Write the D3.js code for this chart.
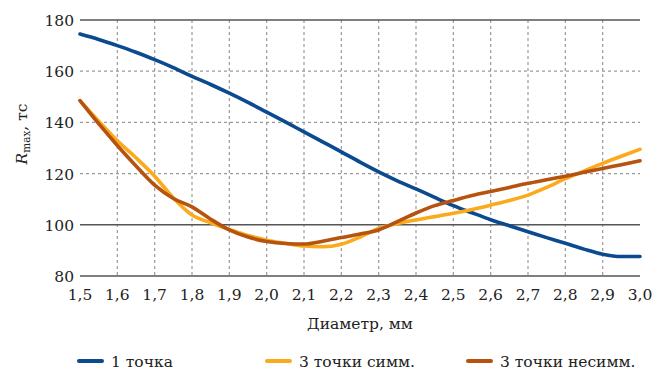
<!DOCTYPE html>
<html>
<head>
<meta charset="utf-8">
<script src="https://cdn.jsdelivr.net/npm/d3@7"></script>
<style>
  html, body { margin: 0; padding: 0; background: #fff; }
  svg { display: block; }
  text { font-family: "DejaVu Serif", "Liberation Serif", serif; fill: #222; }
</style>
</head>
<body>
<svg id="chart" width="653" height="370"></svg>
<script>
// Diameter, mm (0.05 step)
const diameters = [1.5, 1.55, 1.6, 1.65, 1.7, 1.75, 1.8, 1.85, 1.9, 1.95, 2.0, 2.05, 2.1, 2.15, 2.2, 2.25,
                   2.3, 2.35, 2.4, 2.45, 2.5, 2.55, 2.6, 2.65, 2.7, 2.75, 2.8, 2.85, 2.9, 2.95, 3.0];

// R max, tc
const onePoint = [174.5, 172.4, 170, 167.4, 164.5, 161.4, 158, 154.8, 151.4, 147.8, 144, 140.2, 136.3, 132.4, 128.5, 124.5,
                  120.7, 117.2, 114, 110.7, 107.5, 104.7, 102, 99.6, 97.3, 95, 92.8, 90.5, 88.5, 87.6, 87.6];
const threeSym = [148.5, 140.5, 132.8, 126.2, 119, 110.5, 103.8, 100.8, 98.2, 95.8, 94, 92.8, 91.7, 91.4, 92.4, 95.2,
                  98.6, 100.5, 101.9, 103.2, 104.5, 106, 107.7, 109.5, 111.6, 114.6, 118, 121, 124, 126.8, 129.5];
const threeAsym = [148.5, 139.5, 131, 123, 115.5, 110.3, 107, 102.2, 98, 95.2, 93.5, 92.7, 92.5, 93.6, 95, 96.4,
                   98, 101.2, 104.6, 107.5, 109.5, 111.4, 113, 114.6, 116.2, 117.6, 119, 120.5, 122, 123.5, 125];

const xTicks = [1.5, 1.6, 1.7, 1.8, 1.9, 2.0, 2.1, 2.2, 2.3, 2.4, 2.5, 2.6, 2.7, 2.8, 2.9, 3.0];
const yTicks = [80, 100, 120, 140, 160, 180];
const solidY = [80, 100, 180];

const seriesNames = ["1 точка", "3 точки симм.", "3 точки несимм."];
const seriesColors = ["#0b4a8e", "#fbaa1c", "#b6530f"];
const seriesValues = [onePoint, threeSym, threeAsym];

const svg = d3.select("#chart");
const x = d3.scaleLinear().domain([1.5, 3.0]).range([80, 640]);
const y = d3.scaleLinear().domain([80, 180]).range([276, 20]);
const fmt = v => d3.format(".1f")(v).replace(".", ",");

// vertical dashed grid
svg.append("g").selectAll("line")
  .data(xTicks.filter(t => t > 1.5 && t < 3.0))
  .join("line")
  .attr("x1", d => x(d)).attr("x2", d => x(d))
  .attr("y1", y(180)).attr("y2", y(80))
  .attr("stroke", "#9a9a9a").attr("stroke-width", 1.2)
  .attr("stroke-dasharray", "3,3");

// horizontal grid: dashed for inner, solid for 80/100/180
svg.append("g").selectAll("line")
  .data(yTicks)
  .join("line")
  .attr("x1", x(1.5)).attr("x2", x(3.0))
  .attr("y1", d => y(d)).attr("y2", d => y(d))
  .attr("stroke", d => solidY.includes(d) ? "#555" : "#9a9a9a")
  .attr("stroke-width", d => solidY.includes(d) ? 1.4 : 1.2)
  .attr("stroke-dasharray", d => solidY.includes(d) ? null : "3,3");

// y tick labels
svg.append("g").selectAll("text")
  .data(yTicks)
  .join("text")
  .attr("x", 74).attr("y", d => y(d) + 6)
  .attr("text-anchor", "end")
  .attr("font-size", 15.5)
  .text(d => d);

// x tick labels
svg.append("g").selectAll("text")
  .data(xTicks)
  .join("text")
  .attr("x", d => x(d)).attr("y", 300)
  .attr("text-anchor", "middle")
  .attr("font-size", 15.5)
  .text(d => fmt(d));

// axis titles
svg.append("text")
  .attr("x", x(2.25)).attr("y", 329)
  .attr("text-anchor", "middle")
  .attr("font-size", 15.5)
  .text("Диаметр, мм");

const yTitle = svg.append("text")
  .attr("transform", "translate(27,134) rotate(-90)")
  .attr("text-anchor", "middle")
  .attr("font-size", 15.5);
yTitle.append("tspan").attr("font-style", "italic").text("R");
yTitle.append("tspan").attr("font-size", 10.5).attr("dy", 3).text("max");
yTitle.append("tspan").attr("dy", -3).text(", тс");

// series lines
const line = d3.line()
  .x((d, i) => x(diameters[i]))
  .y(d => y(d))
  .curve(d3.curveMonotoneX);

svg.append("g").selectAll("path")
  .data(seriesValues)
  .join("path")
  .attr("d", d => line(d))
  .attr("fill", "none")
  .attr("stroke", (d, i) => seriesColors[i])
  .attr("stroke-width", 3.6)
  .attr("stroke-linecap", "round")
  .attr("stroke-linejoin", "round");

// legend
const legendX = [79, 267, 468];
const lg = svg.append("g").selectAll("g")
  .data(seriesNames)
  .join("g")
  .attr("transform", (d, i) => `translate(${legendX[i]},361)`);
lg.append("line")
  .attr("x1", 0).attr("x2", 23)
  .attr("stroke", (d, i) => seriesColors[i])
  .attr("stroke-width", 4)
  .attr("stroke-linecap", "round");
lg.append("text")
  .attr("x", 32).attr("y", 5.5)
  .attr("font-size", 15.5)
  .text(d => d);
</script>
</body>
</html>
